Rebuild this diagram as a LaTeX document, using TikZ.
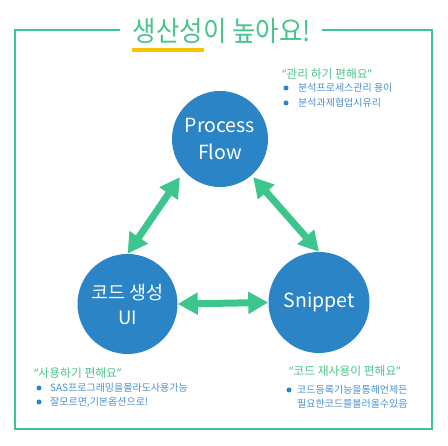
\documentclass[tikz,border=0pt]{standalone}
\usepackage{fontspec}
\setmainfont{Noto Sans CJK KR}
\newfontfamily\latq{Noto Sans}
\usetikzlibrary{arrows.meta}
\definecolor{frgreen}{RGB}{62,196,145}
\definecolor{argreen}{RGB}{60,198,142}
\definecolor{cblue}{RGB}{42,132,198}
\definecolor{tblue}{RGB}{74,144,208}
\definecolor{hgreen}{RGB}{72,196,140}
\definecolor{uyellow}{RGB}{246,196,0}
\tikzset{
  bubble/.style={circle, fill=cblue, text=white, inner sep=0pt, align=center, font=\fontsize{19.5}{23}\selectfont},
  biarrow/.style={draw=argreen, line width=7pt, {Triangle[length=20pt,width=21pt]}-{Triangle[length=20pt,width=21pt]}},
  frameline/.style={draw=frgreen, line width=2.5pt},
  heading/.style={anchor=west, inner sep=0pt, text=hgreen, font=\fontsize{11.8}{13}\selectfont},
  btext/.style={anchor=west, inner sep=0pt, text=tblue, align=left, font=\fontsize{10}{13.5}\selectfont},
  bdot/.style={circle, fill=cblue, inner sep=0pt, minimum size=5pt}
}
\begin{document}
\begin{tikzpicture}[x=1pt,y=-1pt]
\useasboundingbox (0,0) rectangle (448,446);
% frame
\coordinate (fl) at (120,30);
\coordinate (ftl) at (15,30);
\coordinate (fbl) at (15,429);
\coordinate (fbr) at (432,429);
\coordinate (ftr) at (432,30);
\coordinate (fr) at (322,30);
\draw[frameline, line join=miter] (fl) -- (ftl) -- (fbl) -- (fbr) -- (ftr) -- (fr);
% title
\node[inner sep=0pt, text=hgreen, font=\fontsize{28}{30}\selectfont, xscale=0.91] (title) at (222,31) {생산성이 높아요!};
\coordinate (ul1) at (132,50);
\coordinate (ul2) at (204,50);
\draw[draw=uyellow, line width=4pt] (ul1) -- (ul2);
% circles
\node[bubble, minimum size=96pt] (pf) at (220,139) {Process\\[4pt]Flow};
\node[bubble, minimum size=100pt, font=\fontsize{18.5}{23}\selectfont] (ui) at (127.5,304) {코드 생성\\[2pt]UI};
\node[bubble, minimum size=101pt] (sn) at (319,302.5) {Snippet};
% arrows
\draw[biarrow] ([shift={(-6,4)}]pf.225) -- (ui.north);
\draw[biarrow] ([shift={(-1,4)}]pf.315) -- (sn.north);
\draw[biarrow] (ui.east) -- (sn.west);
% top right text
\node[heading] (h1) at (282,74) {{\latq “}관리 하기 편해요{\latq ”}};
\node[bdot] (d11) at (286,88) {};
\node[btext] (t11) at (298,88) {분석프로세스관리 용이};
\node[bdot] (d12) at (286,103) {};
\node[btext] (t12) at (298,103) {분석과제협업시유리};
% bottom left text
\node[heading] (h2) at (34,373) {{\latq “}사용하기 편해요{\latq ”}};
\node[bdot] (d21) at (39,388) {};
\node[btext] (t21) at (50,388) {SAS프로그래밍을몰라도사용가능};
\node[bdot] (d22) at (39,402) {};
\node[btext] (t22) at (50,402) {잘모르면,기본옵션으로!};
% bottom right text
\node[heading] (h3) at (289,371) {{\latq “}코드 재사용이 편해요{\latq ”}};
\node[bdot] (d31) at (289,390) {};
\node[btext] (t31) at (297,390) {코드등록기능을통해언제든};
\node[btext] (t32) at (297,404) {필요한코드를불러올수있음};
\end{tikzpicture}
\end{document}
